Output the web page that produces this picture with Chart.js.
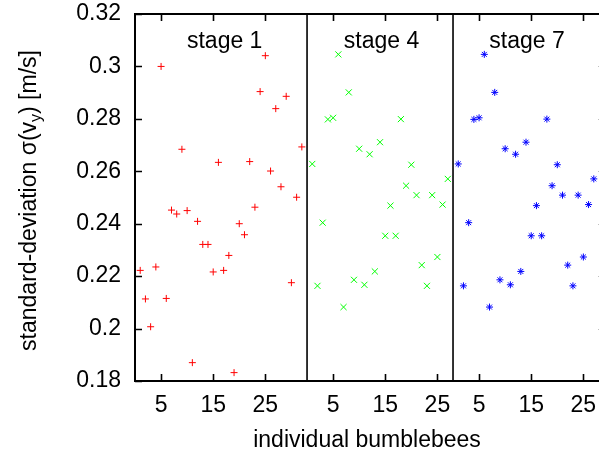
<!DOCTYPE html>
<html>
<head>
<meta charset="utf-8">
<script src="https://cdn.jsdelivr.net/npm/chart.js@4/dist/chart.umd.min.js"></script>
<style>
  html, body { margin: 0; padding: 0; background: #fff; overflow: hidden; }
  canvas { display: block; }
</style>
</head>
<body>
<canvas id="chart" width="599" height="454"></canvas>
<script>
(function () {
  "use strict";

  const FONT_FAMILY = "'Liberation Sans', Arial, Helvetica, sans-serif";
  const FONT_SIZE = 23;

  // panels: one per stage, bee index runs from 1 inside each panel
  const STAGE_NAMES = ["stage 1", "stage 4", "stage 7"];
  const PANEL_WIDTHS = [33, 28, 28];
  const X_TICK_VALUES = [5, 15, 25];
  const Y_TICK_VALUES = [0.18, 0.2, 0.22, 0.24, 0.26, 0.28, 0.3, 0.32];

  const STAGE1_SIGMA = [
    0.2222, 0.2113, 0.2007, 0.2235, 0.3, 0.2115, 0.2452, 0.2437,
    0.2684, 0.245, 0.187, 0.2409, 0.2321, 0.2321, 0.2216, 0.2634,
    0.2222, 0.2279, 0.1832, 0.24, 0.2358, 0.2637, 0.2463, 0.2904,
    0.3041, 0.2601, 0.2839, 0.2541, 0.2886, 0.2175, 0.2501, 0.2693,
  ];
  const STAGE4_SIGMA = [
    0.2628, 0.2163, 0.2404, 0.2798, 0.2804, 0.3046, 0.2082, 0.2901,
    0.2186, 0.2686, 0.2167, 0.2665, 0.2218, 0.2711, 0.2354, 0.2469,
    0.2354, 0.2799, 0.2545, 0.2625, 0.2509, 0.2242, 0.2163, 0.2509,
    0.2273, 0.2473, 0.2571,
  ];
  const STAGE7_SIGMA = [
    0.2628, 0.2163, 0.2404, 0.2798, 0.2804, 0.3046, 0.2082, 0.2901,
    0.2186, 0.2686, 0.2167, 0.2665, 0.2218, 0.2711, 0.2354, 0.2469,
    0.2354, 0.2799, 0.2545, 0.2625, 0.2509, 0.2242, 0.2163, 0.2509,
    0.2273, 0.2473, 0.2571,
  ];

  const SERIES_COLORS = ["#ff0000", "#00ff00", "#0000ff"];
  const SERIES_STYLES = ["cross", "crossRot", "star"];
  const SERIES_RADII = [3.5, 4.3, 3.5];

  // stage label anchors inside each panel (bee units) and height (sigma)
  const STAGE_LABEL_X = [17.2, 14.3, 14.2];
  const STAGE_LABEL_Y = 0.307;

  const panelOffsets = PANEL_WIDTHS.map((_, i) =>
    PANEL_WIDTHS.slice(0, i).reduce((a, b) => a + b, 0),
  );
  const xMax = PANEL_WIDTHS.reduce((a, b) => a + b, 0);

  const xTicks = [];
  panelOffsets.forEach((off) => {
    X_TICK_VALUES.forEach((v) => xTicks.push({ value: off + v, label: String(v) }));
  });

  function toPoints(values, panel) {
    return values.map((v, i) => ({ x: panelOffsets[panel] + i + 1, y: v }));
  }

  const seriesValues = [STAGE1_SIGMA, STAGE4_SIGMA, STAGE7_SIGMA];
  const datasets = seriesValues.map((vals, i) => ({
    label: STAGE_NAMES[i],
    data: toPoints(vals, i),
    pointStyle: SERIES_STYLES[i],
    pointRadius: SERIES_RADII[i],
    pointBorderColor: SERIES_COLORS[i],
    pointBackgroundColor: SERIES_COLORS[i],
    pointBorderWidth: 1,
    showLine: false,
  }));

  const frame = {
    id: "gnuplotFrame",
    afterDraw(chart) {
      const ctx = chart.ctx;
      const { left, right, top, bottom } = chart.chartArea;
      const xs = chart.scales.x;
      const ys = chart.scales.y;
      const tick = 7;
      ctx.save();
      ctx.strokeStyle = "#000";
      ctx.lineWidth = 2;
      ctx.beginPath();
      ctx.moveTo(right + 2, top);
      ctx.lineTo(left, top);
      ctx.lineTo(left, bottom);
      ctx.lineTo(right + 2, bottom);
      ctx.stroke();

      // panel separators
      ctx.lineWidth = 1.6;
      panelOffsets.slice(1).forEach((off) => {
        const x = xs.getPixelForValue(off);
        ctx.beginPath();
        ctx.moveTo(x, top);
        ctx.lineTo(x, bottom);
        ctx.stroke();
      });

      // inward ticks
      ctx.lineWidth = 1.6;
      ctx.beginPath();
      Y_TICK_VALUES.forEach((v) => {
        const y = Math.round(ys.getPixelForValue(v)) + 0.5;
        ctx.moveTo(left, y);
        ctx.lineTo(left + tick, y);
      });
      xTicks.forEach((t) => {
        const x = Math.round(xs.getPixelForValue(t.value)) + 0.5;
        ctx.moveTo(x, bottom);
        ctx.lineTo(x, bottom - tick);
        ctx.moveTo(x, top);
        ctx.lineTo(x, top + tick);
      });
      ctx.stroke();

      // mirrored y ticks just peeking at the right edge
      ctx.fillStyle = "rgba(0,0,0,0.25)";
      Y_TICK_VALUES.slice(1, -1).forEach((v) => {
        const y = Math.round(ys.getPixelForValue(v));
        ctx.fillRect(right - 1, y, 1, 1);
      });

      // stage labels
      ctx.fillStyle = "#000";
      ctx.font = FONT_SIZE + "px " + FONT_FAMILY;
      ctx.textAlign = "center";
      ctx.textBaseline = "alphabetic";
      STAGE_NAMES.forEach((name, i) => {
        const x = xs.getPixelForValue(panelOffsets[i] + STAGE_LABEL_X[i]);
        ctx.fillText(name, x, ys.getPixelForValue(STAGE_LABEL_Y));
      });

      // y axis title with subscript
      const main1 = "standard-deviation \u03c3(v";
      const sub = "y";
      const main2 = ") [m/s]";
      const subFont = Math.round(FONT_SIZE * 0.7) + "px " + FONT_FAMILY;
      const mainFont = FONT_SIZE + "px " + FONT_FAMILY;
      ctx.font = mainFont;
      const w1 = ctx.measureText(main1).width;
      const w3 = ctx.measureText(main2).width;
      ctx.font = subFont;
      const w2 = ctx.measureText(sub).width;
      const total = w1 + w2 + w3;
      ctx.translate(36, (top + bottom) / 2 + 3);
      ctx.rotate(-Math.PI / 2);
      ctx.textAlign = "left";
      let cx = -total / 2;
      ctx.font = mainFont;
      ctx.fillText(main1, cx, 0);
      cx += w1;
      ctx.font = subFont;
      ctx.fillText(sub, cx, 5);
      cx += w2;
      ctx.font = mainFont;
      ctx.fillText(main2, cx, 0);
      ctx.restore();
    },
  };

  new Chart(document.getElementById("chart"), {
    type: "scatter",
    data: { datasets },
    options: {
      responsive: false,
      animation: false,
      events: [],
      layout: {
        autoPadding: false,
        padding: { left: 0, right: 0, top: 14, bottom: 0 },
      },
      plugins: {
        legend: { display: false },
        tooltip: { enabled: false },
      },
      scales: {
        x: {
          type: "linear",
          min: 0,
          max: xMax,
          grid: { display: false, drawTicks: false },
          border: { display: false },
          afterBuildTicks(scale) {
            scale.ticks = xTicks.map((t) => ({ value: t.value }));
          },
          afterFit(scale) {
            scale.height = 73;
            scale.paddingLeft = 0;
            scale.paddingRight = 0;
          },
          ticks: {
            autoSkip: false,
            maxRotation: 0,
            padding: 11,
            color: "#000",
            font: { family: FONT_FAMILY, size: FONT_SIZE },
            callback: (v) => {
              const t = xTicks.find((tt) => tt.value === v);
              return t ? t.label : "";
            },
          },
          title: {
            display: true,
            text: "individual bumblebees",
            color: "#000",
            font: { family: FONT_FAMILY, size: FONT_SIZE },
            padding: { top: 0, bottom: 0 },
          },
        },
        y: {
          min: Y_TICK_VALUES[0],
          max: Y_TICK_VALUES[Y_TICK_VALUES.length - 1],
          grid: { display: false, drawTicks: false },
          border: { display: false },
          afterBuildTicks(scale) {
            scale.ticks = Y_TICK_VALUES.map((v) => ({ value: v }));
          },
          afterFit(scale) {
            scale.width = 135;
            scale.paddingTop = 0;
            scale.paddingBottom = 0;
          },
          ticks: {
            padding: 14,
            color: "#000",
            font: { family: FONT_FAMILY, size: FONT_SIZE },
            callback: (v) => String(+Number(v).toFixed(2)),
          },
        },
      },
    },
    plugins: [frame],
  });
})();
</script>
</body>
</html>
